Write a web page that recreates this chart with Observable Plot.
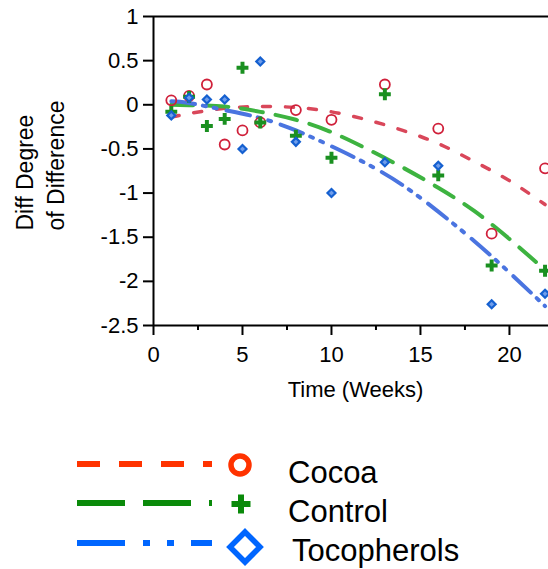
<!DOCTYPE html>
<html>
<head>
<meta charset="utf-8">
<script src="https://cdn.jsdelivr.net/npm/d3@7"></script>
<script src="https://cdn.jsdelivr.net/npm/@observablehq/plot@0.6"></script>
<style>
  html, body { margin: 0; padding: 0; overflow: hidden; background: #fff; width: 548px; height: 569px; }
  #chart { width: 548px; overflow: hidden; }
  #chart svg { display: block; max-width: none !important; }
  #chart svg.plotmain { width: 580px !important; height: 420px !important; }
  #chart svg g[aria-label*="axis"] path, #chart svg g[aria-label*="axis"] line { stroke-width: 2px; stroke: #000; }
</style>
</head>
<body>
<div id="chart"></div>
<script>
// ---- data ----
const weeks = [1, 2, 3, 4, 5, 6, 8, 10, 13, 16, 19, 22];
const cocoa = [0.05, 0.10, 0.23, -0.45, -0.29, -0.20, -0.06, -0.17, 0.23, -0.27, -1.46, -0.72];
const control = [-0.08, 0.09, -0.24, -0.16, 0.42, -0.20, -0.35, -0.60, 0.12, -0.80, -1.82, -1.88];
const tocopherols = [-0.12, 0.08, 0.06, 0.06, -0.50, 0.49, -0.42, -1.00, -0.65, -0.69, -2.26, -2.14];

// fitted trend curves
const fitWeeks = [1, 2, 4, 6, 8, 10, 12, 14, 16, 18, 20, 22];
const cocoaFit = [-0.14, -0.10, -0.04, -0.02, -0.03, -0.08, -0.17, -0.29, -0.44, -0.64, -0.86, -1.13];
const controlFit = [0.00, -0.005, -0.02, -0.08, -0.17, -0.31, -0.50, -0.71, -0.94, -1.20, -1.52, -1.87];
const tocopherolsFit = [0.04, 0.02, -0.06, -0.15, -0.29, -0.47, -0.67, -0.91, -1.21, -1.54, -1.90, -2.28];

const xTicks = [0, 5, 10, 15, 20];
const xMinorTicks = [2.5, 7.5, 12.5, 17.5, 22.5];
const yTicks = [-2.5, -2, -1.5, -1, -0.5, 0, 0.5, 1];
const seriesNames = ["Cocoa", "Control", "Tocopherols"];
const xLabel = "Time (Weeks)";
const yLabel = "Diff Degree\nof Difference";

// ---- build tables ----
const pts = ys => weeks.map((w, i) => ({x: w, y: ys[i]}));
const fit = ys => fitWeeks.map((w, i) => ({x: w, y: ys[i]}));

const chart = Plot.plot({
  width: 580,
  height: 420,
  marginLeft: 153,
  marginRight: 23,
  marginTop: 16,
  marginBottom: 95,
  style: {fontFamily: "'Liberation Sans', Arial, sans-serif", fontSize: "22px", background: "white", color: "black", overflow: "visible", maxWidth: "none"},
  x: {domain: [0, 22.7], ticks: xTicks, tickSize: 10, tickPadding: 11, tickFormat: d => String(d), label: null},
  y: {domain: [-2.5, 1], ticks: yTicks, tickSize: 10, tickPadding: 5, tickFormat: d => String(d), label: null},
  marks: [
    Plot.ruleY([1], {stroke: "black", strokeWidth: 2}),
    Plot.ruleX([0], {stroke: "black", strokeWidth: 2}),
    Plot.ruleY([-2.5], {stroke: "black", strokeWidth: 2}),
    Plot.ruleX(xMinorTicks, {stroke: "black", strokeWidth: 2, insetTop: 309, insetBottom: -5}),
    Plot.line(fit(cocoaFit), {x: "x", y: "y", curve: "natural", stroke: "#d9475a", strokeWidth: 3.5, strokeDasharray: "8,15"}),
    Plot.line(fit(controlFit), {x: "x", y: "y", curve: "natural", stroke: "#3db340", strokeWidth: 4, strokeDasharray: "22,13"}),
    Plot.line(fit(tocopherolsFit), {x: "x", y: "y", curve: "natural", stroke: "#4a74e0", strokeWidth: 4, strokeDasharray: "24,8,3,8,3,10"}),
    Plot.dot(pts(cocoa), {x: "x", y: "y", r: 5, stroke: "#d0203a", strokeWidth: 1.8, fill: "none"}),
    Plot.dot(pts(control), {x: "x", y: "y", symbol: "cross", r: 5, fill: "#1a9020", stroke: "none"}),
    Plot.dot(pts(tocopherols), {x: "x", y: "y", symbol: "diamond2", r: 3.6, stroke: "#1560d0", strokeWidth: 2.2, fill: "#6f9deb"}),
    Plot.text([xLabel], {text: d => d, frameAnchor: "bottom", lineAnchor: "middle", dy: 64.5, fontSize: 22}),
    Plot.text([yLabel], {text: d => d, frameAnchor: "left", rotate: -90, textAnchor: "start", lineAnchor: "top", lineHeight: 1.33, fontSize: 23, dx: -142, dy: 59.5})
  ]
});
chart.classList.add("plotmain");
document.getElementById("chart").appendChild(chart);

// ---- legend ----
const legendColors = ["#ff3300", "#0a8a0a", "#0066ff"];
const legendDash = ["23,19", "48,18", "48,18,7,17,7,17"];
const legend = d3.create("svg").attr("width", 548).attr("height", 149)
  .style("display", "block")
  .style("font-family", "'Liberation Sans', Arial, sans-serif");
const lineY = [44, 83, 123];
const markY = [45, 84, 127];
const textY = [63, 102, 141];
const textX = [288, 288, 292];
seriesNames.forEach((name, i) => {
  legend.append("line")
    .attr("x1", 77).attr("x2", 212).attr("y1", lineY[i]).attr("y2", lineY[i])
    .attr("stroke", legendColors[i]).attr("stroke-width", 6)
    .attr("stroke-dasharray", legendDash[i]);
  legend.append("text").attr("x", textX[i]).attr("y", textY[i])
    .attr("font-size", 31).attr("fill", "black").text(name);
});
legend.append("circle").attr("cx", 240).attr("cy", markY[0]).attr("r", 9)
  .attr("fill", "none").attr("stroke", legendColors[0]).attr("stroke-width", 5.5);
legend.append("path").attr("d", `M231.5,${markY[1]}H250.5M241,${markY[1] - 9.5}V${markY[1] + 9.5}`)
  .attr("stroke", legendColors[1]).attr("stroke-width", 6).attr("fill", "none");
legend.append("path").attr("d", `M245,${markY[2] - 15}L260,${markY[2]}L245,${markY[2] + 15}L230,${markY[2]}Z`)
  .attr("stroke", legendColors[2]).attr("stroke-width", 5.5).attr("fill", "none");
document.getElementById("chart").appendChild(legend.node());
</script>
</body>
</html>
